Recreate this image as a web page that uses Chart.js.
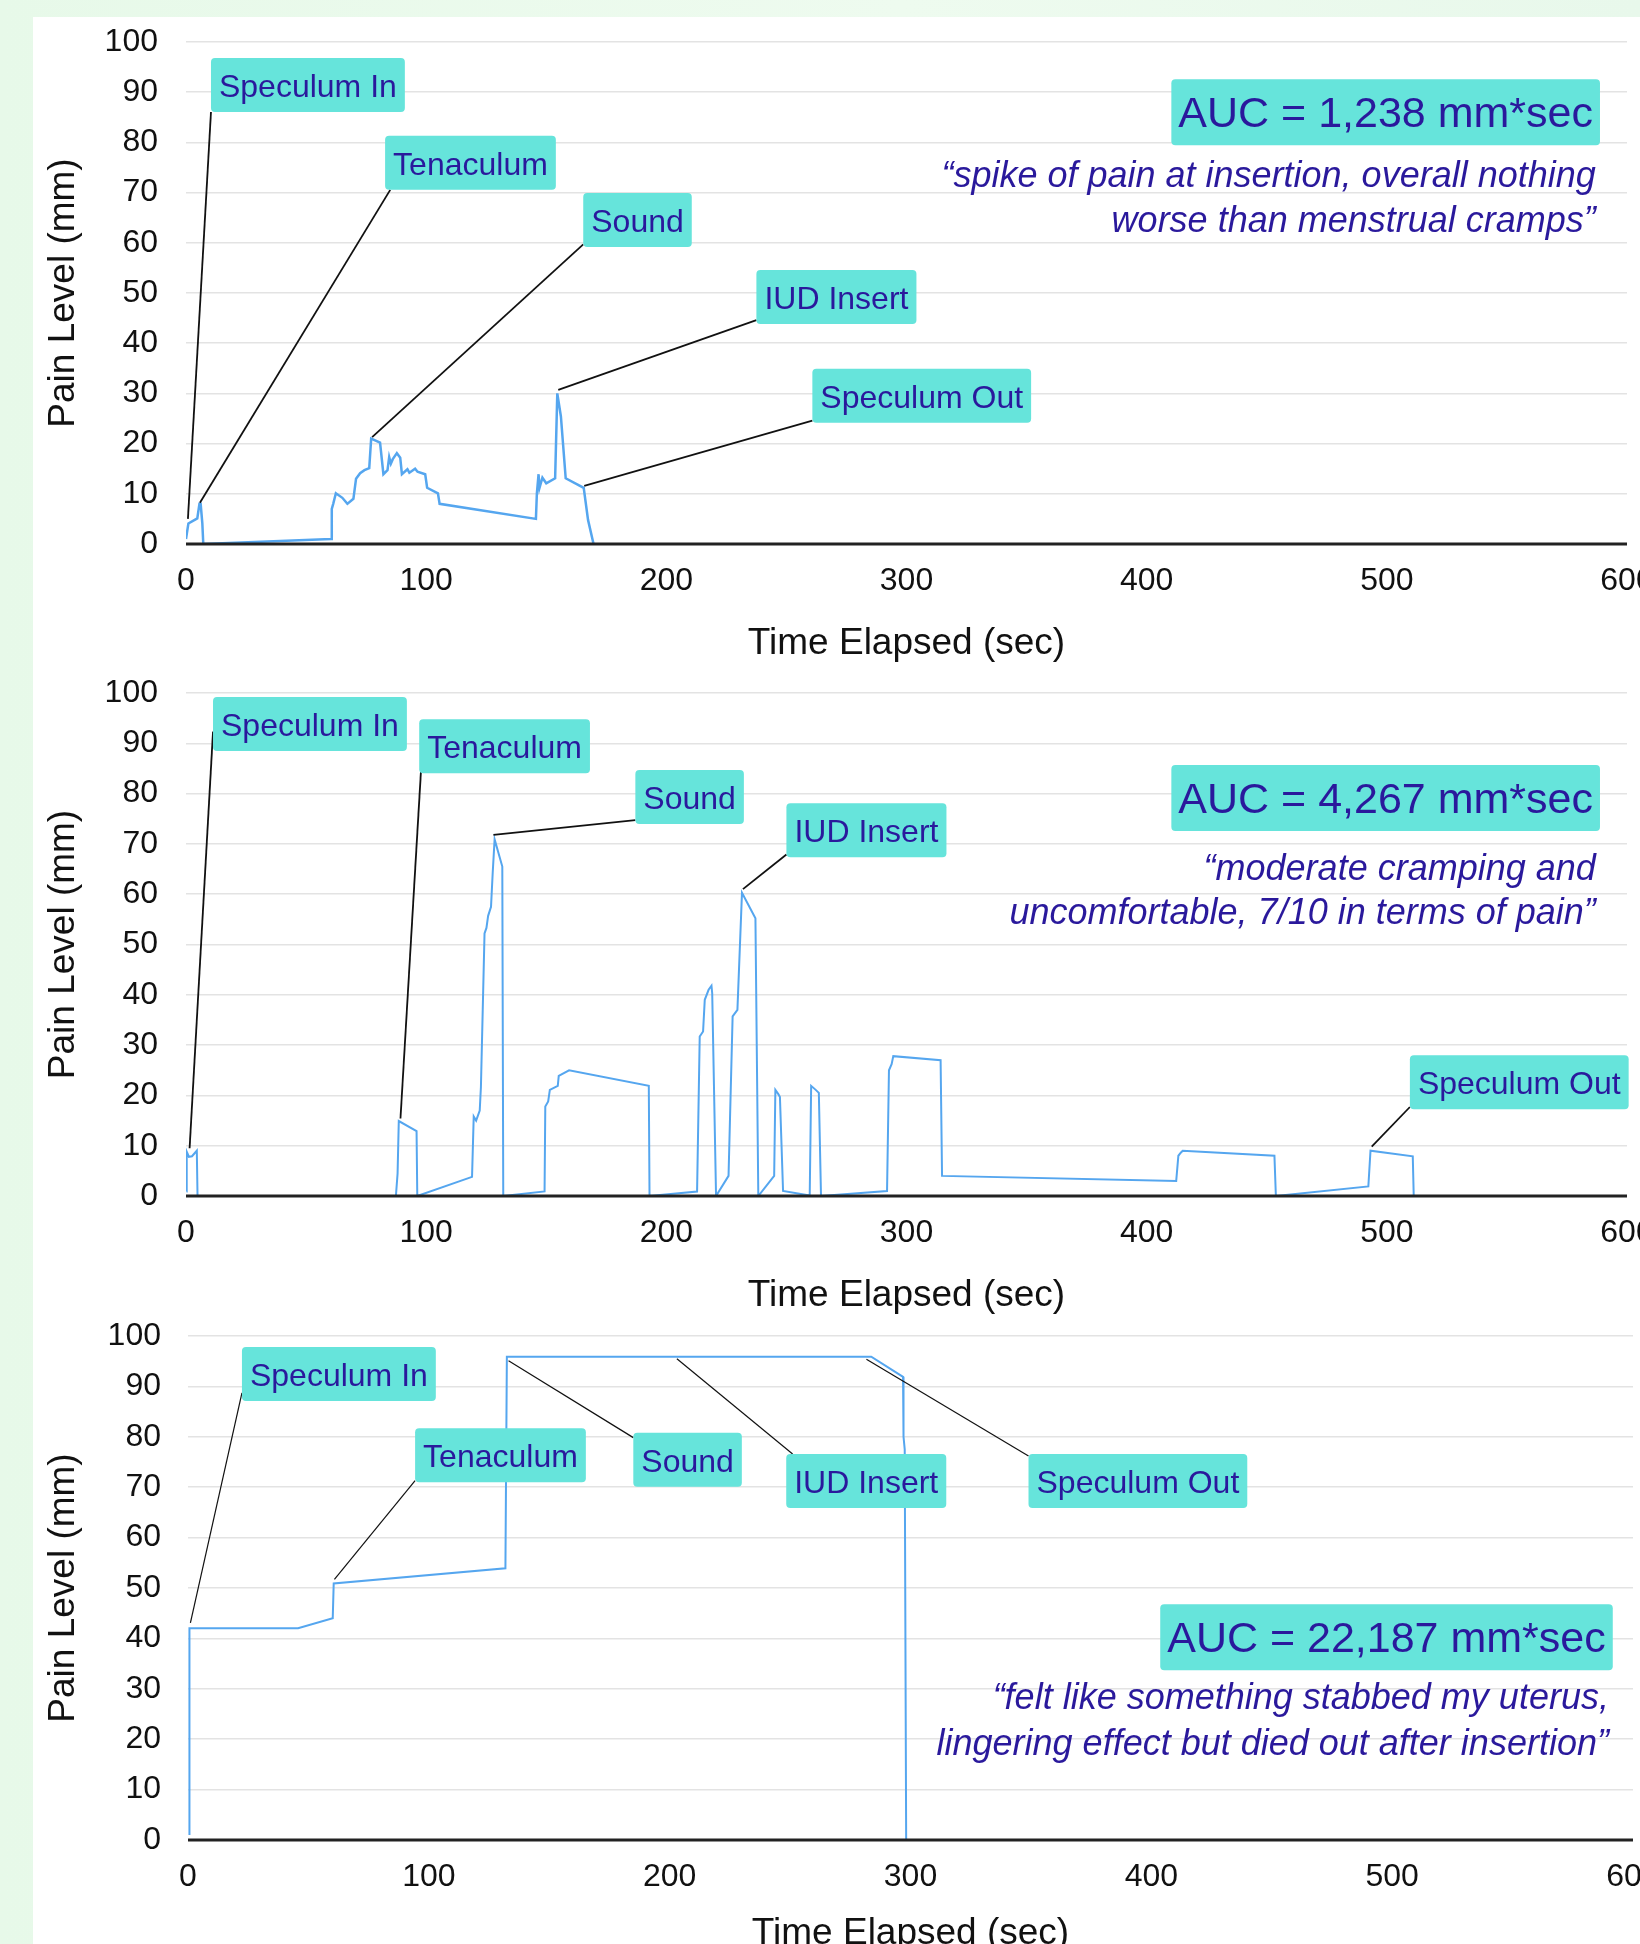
<!DOCTYPE html>
<html>
<head>
<meta charset="utf-8">
<script src="https://cdn.jsdelivr.net/npm/chart.js@4.4.0/dist/chart.umd.min.js"></script>
<style>
  html, body { margin: 0; padding: 0; overflow: hidden; }
  body { width: 1640px; height: 1944px; position: relative;
         background: linear-gradient(90deg, #e7f9e9, #eefbef 55%, #e8f8eb); }
  #card { position: absolute; left: 33px; top: 17px; width: 1700px; height: 2000px; background: #fff; }
  canvas { position: absolute; left: 33px; }
</style>
</head>
<body>
<div id="card"></div>
<canvas id="c1" width="1660" height="649" style="top:17px"></canvas>
<canvas id="c2" width="1660" height="655" style="top:663px"></canvas>
<canvas id="c3" width="1660" height="641" style="top:1315px"></canvas>
<script>
// pain traces, time in sec / pain in mm
const topTime = [0, 1.0, 4.7, 5.6, 6.1, 6.8, 7.2, 60.4, 60.7, 61.3, 62.4, 65.1, 67.2, 69.7, 70.8, 72.5, 74.3, 76.3, 77.1, 80.8,
  82.2, 83.9, 84.6, 85.3, 86.1, 87.8, 89.2, 89.9, 92.2, 93.0, 95.4, 96.4, 99.6, 100.4, 104.9, 105.6, 145.7, 146.1, 146.8, 147.2,
  148.4, 150.0, 153.7, 154.6, 156.1, 158.1, 165.6, 167.4, 169.7];
const topPain = [1, 4.1, 5.1, 8.0, 8.0, 4.1, 0, 1.0, 7.0, 8.0, 10.1, 9.2, 8.0, 9.0, 13.0, 14.1, 14.7, 15.1, 21.0, 20.2,
  13.9, 14.7, 17.3, 16.0, 16.9, 18.1, 17.2, 13.9, 14.9, 14.2, 15.0, 14.4, 13.9, 11.2, 10.1, 8.0, 5.0, 10.1, 13.9, 11.2,
  13.2, 12.1, 13.1, 30.0, 25.4, 13.1, 11.2, 4.8, 0];

const midTime = [0.2, 0.3, 1.2, 2.5, 4.5, 4.8, 87.4, 88.1, 88.6, 96.0, 96.3, 119.1, 119.8, 120.8, 122.3, 122.8, 124.3, 125.1,
  125.8, 127.0, 127.7, 128.5, 131.7, 132.1, 149.3, 149.6, 150.8, 151.5, 154.8, 155.2, 159.5, 192.7, 193.0, 212.8, 213.9,
  215.3, 216.0, 217.6, 218.8, 219.1, 220.7, 225.9, 227.6, 229.6, 231.5, 237.1, 238.3, 244.9, 245.4, 246.7, 247.3, 248.6,
  259.7, 260.3, 262.2, 263.5, 264.4, 291.9, 292.7, 293.8, 294.5, 314.2, 314.8, 412.3, 413.2, 414.2, 415.0, 453.2, 453.8,
  492.3, 493.2, 510.8, 511.2, 520.6];
const midPain = [0.9, 8.8, 7.8, 7.9, 9.0, 0, 0, 4.5, 14.9, 12.9, 0, 3.8, 15.8, 15.0, 17.0, 21.7, 52.2, 53.3,
  55.7, 57.5, 64.2, 70.9, 65.5, 0, 0.9, 17.8, 18.8, 21.1, 21.9, 23.9, 25.0, 21.9, 0, 0.9, 31.7,
  32.7, 39.0, 41.0, 41.8, 40.3, 0, 4.0, 35.7, 37.0, 60.3, 55.2, 0, 4.0, 21.1, 20.2, 19.7, 1.0,
  0.1, 21.9, 21.1, 20.5, 0, 1.0, 25.0, 26.2, 27.8, 27.0, 4.0, 3.0, 8.0, 8.6, 9.0, 8.0, 0,
  1.9, 9.0, 7.9, 0, 0];

const botTime = [0.6, 0.6, 45.7, 60.1, 60.5, 131.8, 132.4, 283.7, 296.9, 297.1, 297.6, 298.2];
const botPain = [1.0, 42.0, 42.0, 44.0, 50.9, 53.9, 95.9, 95.9, 91.9, 80.0, 77.5, 0];

// procedure steps and the point on each trace the callout points at
const stepNames = ["Speculum In", "Tenaculum", "Sound", "IUD Insert", "Speculum Out"];
const topMarkTime = [0.8, 5.8, 77.5, 155, 165.8];
const topMarkPain = [5.0, 8.2, 21.3, 30.7, 11.6];
const midMarkTime = [1.5, 89.3, 128, 231.9, 493.7];
const midMarkPain = [9.5, 15.4, 71.8, 61, 9.8];
const botMarkTime = [1.0, 60.8, 133.1, 203, 281.7];
const botMarkPain = [43.1, 51.7, 95.1, 95.5, 95.4];

const aucValues = ["1,238", "4,267", "22,187"];
const quotes = [
  ["\u201cspike of pain at insertion, overall nothing", "worse than menstrual cramps\u201d"],
  ["\u201cmoderate cramping and", "uncomfortable, 7/10 in terms of pain\u201d"],
  ["\u201cfelt like something stabbed my uterus,", "lingering effect but died out after insertion\u201d"]
];

const FONT = "'Liberation Sans', Arial, sans-serif";
const INK = "#2a199c";
const BOX = "#66e4db";

// placement of each panel (box positions in axis units: [sec, pain, anchor fx, anchor fy])
const panels = [
  { id: "c1", time: topTime, pain: topPain, markT: topMarkTime, markP: topMarkPain, auc: aucValues[0], quote: quotes[0],
    padTop: 25, padRight: 66, yWidth: 153, xHeight: 122, yPad: 28, lineWidth: 2.5, leaderWidth: 1.8,
    boxes: [[10.4, 96.8, 0, 1], [82.9, 81.3, 0.03, 1], [165.4, 69.9, 0, 0.95], [237.5, 54.6, 0, 0.93], [260.8, 34.9, 0, 0.96]],
    aucAt: [588.75, 92.6], quoteAt: [587, 71.1, 62.2] },
  { id: "c2", time: midTime, pain: midPain, markT: midMarkTime, markP: midMarkPain, auc: aucValues[1], quote: quotes[1],
    padTop: 30, padRight: 66, yWidth: 153, xHeight: 122, yPad: 28, lineWidth: 2, leaderWidth: 1.8,
    boxes: [[11.25, 99.2, 0, 0.64], [97.1, 94.8, 0.01, 0.98], [187.1, 84.7, 0, 0.93], [250, 78.1, 0, 0.95], [509.6, 28.0, 0, 0.96]],
    aucAt: [588.75, 85.7], quoteAt: [587, 62.8, 54.0] },
  { id: "c3", time: botTime, pain: botPain, markT: botMarkTime, markP: botMarkPain, auc: aucValues[2], quote: quotes[2],
    padTop: 21, padRight: 60, yWidth: 155, xHeight: 116, yPad: 27, lineWidth: 2, leaderWidth: 1.2,
    boxes: [[22.4, 97.8, 0, 0.85], [94.3, 81.7, 0, 0.97], [184.9, 80.8, 0, 0.09], [248.4, 76.6, 0.04, 0], [349, 76.6, 0, 0.04]],
    aucAt: [591.6, 46.8], quoteAt: [590, 26.0, 16.8] }
];

const calloutPlugin = {
  id: "callouts",
  afterDatasetsDraw(chart, args, opts) {
    const p = opts.panel;
    const {ctx, chartArea} = chart;
    const x = chart.scales.x, y = chart.scales.y;
    ctx.save();

    // x axis drawn over the trace
    const y0 = y.getPixelForValue(0);
    ctx.strokeStyle = "#222";
    ctx.lineWidth = 3;
    ctx.beginPath();
    ctx.moveTo(chartArea.left, y0);
    ctx.lineTo(chartArea.right, y0);
    ctx.stroke();

    ctx.font = "32px " + FONT;
    const h = 54;
    stepNames.forEach((name, i) => {
      const [bt, bp, fx, fy] = p.boxes[i];
      const bx = x.getPixelForValue(bt), by = y.getPixelForValue(bp);
      const w = ctx.measureText(name).width + 16;
      ctx.strokeStyle = "#111";
      ctx.lineWidth = p.leaderWidth;
      ctx.beginPath();
      ctx.moveTo(bx + fx * w, by + fy * h);
      ctx.lineTo(x.getPixelForValue(p.markT[i]), y.getPixelForValue(p.markP[i]));
      ctx.stroke();
      ctx.fillStyle = BOX;
      ctx.beginPath();
      ctx.roundRect(bx, by, w, h, 4);
      ctx.fill();
      ctx.fillStyle = INK;
      ctx.textAlign = "left";
      ctx.textBaseline = "alphabetic";
      ctx.fillText(name, bx + 8, by + 39);
    });

    // AUC box
    ctx.font = "43px " + FONT;
    const aucText = "AUC = " + p.auc + " mm*sec";
    const aw = ctx.measureText(aucText).width + 14, ah = 66;
    const ax = x.getPixelForValue(p.aucAt[0]) - aw, ay = y.getPixelForValue(p.aucAt[1]);
    ctx.fillStyle = BOX;
    ctx.beginPath();
    ctx.roundRect(ax, ay, aw, ah, 4);
    ctx.fill();
    ctx.fillStyle = INK;
    ctx.textAlign = "left";
    ctx.fillText(aucText, ax + 7, ay + 48);

    // quote
    ctx.font = "italic 36px " + FONT;
    ctx.textAlign = "right";
    const qx = x.getPixelForValue(p.quoteAt[0]);
    ctx.fillText(p.quote[0], qx, y.getPixelForValue(p.quoteAt[1]));
    ctx.fillText(p.quote[1], qx, y.getPixelForValue(p.quoteAt[2]));
    ctx.restore();
  }
};

panels.forEach((p) => {
  new Chart(document.getElementById(p.id), {
    type: "line",
    data: {
      datasets: [{
        data: p.time.map((t, i) => ({ x: t, y: p.pain[i] })),
        borderColor: "#55a6ef",
        borderWidth: p.lineWidth,
        pointRadius: 0,
        tension: 0,
        fill: false
      }]
    },
    options: {
      responsive: false,
      animation: false,
      layout: { padding: { top: p.padTop, right: p.padRight, bottom: 0, left: 0 } },
      plugins: {
        legend: { display: false },
        tooltip: { enabled: false },
        callouts: { panel: p }
      },
      scales: {
        x: {
          type: "linear",
          min: 0,
          max: 600,
          ticks: { stepSize: 100, padding: 18, color: "#111", font: { family: FONT, size: 32 } },
          grid: { display: false, drawTicks: false },
          border: { display: false },
          title: { display: true, text: "Time Elapsed (sec)", color: "#111", padding: { top: 0, bottom: 0 },
                   font: { family: FONT, size: 37 } },
          afterFit(scale) { scale.height = p.xHeight; scale.paddingLeft = 0; scale.paddingRight = 0; }
        },
        y: {
          min: 0,
          max: 100,
          ticks: { stepSize: 10, padding: p.yPad, color: "#111", font: { family: FONT, size: 32 } },
          grid: { color: "#e3e3e3", lineWidth: 1.5, drawTicks: false },
          border: { display: false },
          title: { display: true, text: "Pain Level (mm)", color: "#111", padding: { top: 9, bottom: 0 },
                   font: { family: FONT, size: 37 } },
          afterFit(scale) { scale.width = p.yWidth; scale.paddingTop = 0; scale.paddingBottom = 0; }
        }
      }
    },
    plugins: [calloutPlugin]
  });
});
</script>
</body>
</html>
